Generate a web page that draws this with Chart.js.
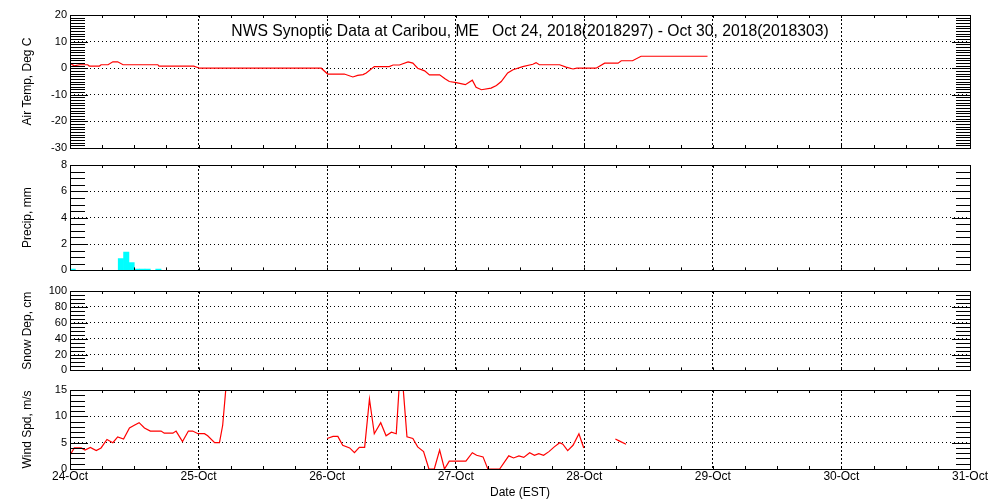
<!DOCTYPE html>
<html lang="en">
<head>
<meta charset="UTF-8">
<title>NWS Synoptic Data at Caribou, ME</title>
<script src="https://cdn.jsdelivr.net/npm/chart.js"></script>
<style>
  body { margin: 0; background: #fff; }
  #wrap { position: relative; width: 1000px; height: 500px; }
  canvas { position: absolute; left: 0; }
</style>
</head>
<body>
<div id="wrap">
  <canvas id="tempChart" width="1000" height="160" style="top:0px"></canvas>
  <canvas id="precipChart" width="1000" height="125" style="top:155px"></canvas>
  <canvas id="snowChart" width="1000" height="100" style="top:280px"></canvas>
  <canvas id="windChart" width="1000" height="122" style="top:378px"></canvas>
</div>

<script>
// hours since 24-Oct 00:00 EST
const dayLabels = ['24-Oct', '25-Oct', '26-Oct', '27-Oct', '28-Oct', '29-Oct', '30-Oct', '31-Oct'];
const titleText = 'NWS Synoptic Data at Caribou, ME   Oct 24, 2018(2018297) - Oct 30, 2018(2018303)';

const tempHours = [0.2, 0.8, 1.8, 3.3, 3.6, 5.5, 5.8, 7.1, 8.0, 8.9, 9.9, 16.4, 16.6, 23.1, 24.2, 46.9,
  48.1, 51.2, 52.8, 53.7, 54.7, 55.3, 56.8, 59.6, 60.3, 61.5, 63.1, 64.0, 64.9, 66.2, 67.1, 69.0,
  70.0, 70.8, 72.1, 73.8, 75.1, 75.8, 76.8, 78.6, 79.6, 80.5, 81.7, 82.7, 84.5, 86.4, 87.0, 87.6,
  91.4, 92.6, 93.9, 94.6, 98.2, 99.8, 102.3, 102.9, 105.0, 106.6, 119.0];
const tempValues = [1.6, 0.9, 1.3, 1.3, 0.8, 0.8, 1.3, 1.3, 2.4, 2.4, 1.3, 1.3, 0.8, 0.8, 0.0, 0.0,
  -2.2, -2.2, -3.3, -2.7, -2.4, -1.8, 0.6, 0.6, 1.2, 1.2, 2.4, 1.9, 0.0, -1.0, -2.5, -2.5,
  -4.0, -5.0, -5.4, -6.2, -4.5, -7.2, -8.1, -7.5, -6.5, -5.0, -1.8, -0.6, 0.6, 1.5, 2.1, 1.3,
  1.3, 0.4, -0.3, 0.0, 0.0, 1.9, 1.9, 2.8, 2.8, 4.5, 4.5];

const precipHours = [0.5, 9.5, 10.5, 11.5, 12.5, 13.5, 14.5, 16.5];
const precipValues = [0.1, 0.9, 1.4, 0.6, 0.1, 0.1, 0.1, 0.1];

const snowHours = [];
const snowValues = [];

const windHours = [0.1, 0.8, 2.1, 2.8, 3.8, 4.9, 5.8, 6.9, 8.0, 8.9, 10.0, 11.1, 12.0, 12.9, 13.9, 15.0,
  17.0, 17.6, 19.2, 19.8, 21.0, 22.1, 22.9, 23.9, 25.1, 25.7, 27.0, 27.9, 28.5, 29.2, 29.5,
  48.0, 49.1, 50.0, 50.9, 52.2, 53.1, 54.0, 55.0, 55.9, 56.8, 58.0, 59.0, 60.0, 60.9, 61.5, 62.1,
  62.9, 64.0, 64.9, 66.0, 67.0, 68.0, 69.0, 69.9, 70.8, 73.9, 75.1, 75.9, 77.1, 78.0, 80.2,
  81.9, 82.8, 83.8, 84.7, 85.8, 86.7, 87.5, 88.4, 89.4, 90.4, 91.4, 92.0, 92.9, 93.9, 95.0, 95.9,
  96.5, 101.8, 102.6, 103.8];
const windValues = [2.8, 4.0, 4.0, 3.6, 4.1, 3.5, 4.0, 5.6, 5.0, 6.1, 5.7, 7.8, 8.3, 8.8, 7.8, 7.2,
  7.2, 6.8, 6.8, 7.2, 5.2, 7.2, 7.2, 6.7, 6.7, 6.3, 5.0, 5.0, 8.3, 16.5, null,
  5.8, 6.2, 6.2, 4.5, 4.0, 3.1, 4.1, 4.1, 13.3, 6.7, 8.8, 6.3, 7.0, 6.7, 16.5, 16.5,
  6.1, 5.8, 4.2, 3.3, 0.0, 0.0, 3.6, 0.0, 1.5, 1.5, 3.1, 2.6, 2.3, 0.0, 0.0,
  2.5, 2.1, 2.5, 2.2, 3.1, 2.6, 2.9, 2.6, 3.3, 4.2, 5.0, 4.7, 3.5, 4.5, 6.7, 4.0,
  null, 5.7, 5.3, 4.7];

Chart.defaults.font.family = "'Liberation Sans', Arial, sans-serif";
Chart.defaults.color = '#000';
Chart.defaults.animation = false;

const pairs = (xs, ys) => xs.map((h, i) => ({ x: h, y: ys[i] }));

// box, inside tick marks and optional title text
const frame = {
  id: 'frame',
  afterDraw(chart, args, opts) {
    const { ctx, chartArea: a, scales } = chart;
    const x = scales.x, y = scales.y;
    const px = v => Math.round(v) + 0.5;
    ctx.save();
    ctx.strokeStyle = '#000';
    ctx.lineWidth = 1;
    ctx.setLineDash([]);
    ctx.beginPath();
    for (let v = y.min; v <= y.max + 1e-9; v += opts.minor) {
      const yy = px(y.getPixelForValue(v));
      const r = v / opts.major;
      const major = Math.abs(r - Math.round(r)) < 1e-6;
      ctx.moveTo(a.left, yy); ctx.lineTo(a.left + (major ? 18 : 15), yy);
      ctx.moveTo(a.right, yy); ctx.lineTo(a.right - (major ? 18 : 14), yy);
    }
    for (let h = x.min; h <= x.max; h += 6) {
      const xx = px(x.getPixelForValue(h));
      ctx.moveTo(xx, a.top); ctx.lineTo(xx, a.top + 3);
      ctx.moveTo(xx, a.bottom); ctx.lineTo(xx, a.bottom - 3);
    }
    ctx.stroke();
    ctx.strokeRect(px(a.left), px(a.top), Math.round(a.right - a.left), Math.round(a.bottom - a.top));
    if (opts.title) {
      ctx.fillStyle = '#000';
      ctx.font = "15.7px 'Liberation Sans', Arial, sans-serif";
      ctx.textAlign = 'center';
      ctx.textBaseline = 'alphabetic';
      ctx.fillText(opts.title, (a.left + a.right) / 2 + 10, a.top + 21);
    }
    ctx.restore();
  }
};

function makePanel(id, p) {
  return new Chart(document.getElementById(id), {
    type: p.type,
    data: { datasets: p.datasets },
    options: {
      responsive: false,
      layout: { padding: { top: p.padTop, right: 30, bottom: 0, left: 0 } },
      scales: {
        x: {
          type: 'linear',
          min: 0,
          max: 168,
          offset: false,
          afterFit: s => { s.height = p.xHeight; },
          grid: { color: '#000', lineWidth: 1, drawTicks: false, offset: false },
          border: { display: false, dash: [2, 2] },
          ticks: {
            display: p.showX,
            stepSize: 24,
            autoSkip: false,
            maxRotation: 0,
            padding: 0,
            font: { size: 12 },
            callback: v => dayLabels[v / 24]
          },
          title: {
            display: p.showX,
            text: 'Date (EST)',
            font: { size: 12 },
            padding: { top: 0, bottom: 0 }
          }
        },
        y: {
          min: p.yMin,
          max: p.yMax,
          afterFit: s => { s.width = 70; },
          grid: { color: '#000', lineWidth: 1, drawTicks: false },
          border: { display: false, dash: [1, 3] },
          ticks: { stepSize: p.yStep, padding: 3, font: { size: 11 } },
          title: { display: true, text: p.yTitle, font: { size: 12 }, padding: { top: 20, bottom: 0 } }
        }
      },
      plugins: {
        legend: { display: false },
        tooltip: { enabled: false },
        frame: { minor: p.minor, major: p.yStep, title: p.title }
      }
    },
    plugins: [frame]
  });
}

makePanel('tempChart', {
  type: 'line', padTop: 15, xHeight: 12, showX: false,
  yMin: -30, yMax: 20, yStep: 10, minor: 1, yTitle: 'Air Temp, Deg C', title: titleText,
  datasets: [{
    data: pairs(tempHours, tempValues),
    borderColor: '#ff0000', borderWidth: 1.2, pointRadius: 0, tension: 0
  }]
});

makePanel('precipChart', {
  type: 'bar', padTop: 10, xHeight: 7, showX: false,
  yMin: 0, yMax: 8, yStep: 2, minor: 0.5, yTitle: 'Precip, mm',
  datasets: [{
    data: pairs(precipHours, precipValues),
    backgroundColor: '#00ffff', borderWidth: 0,
    barPercentage: 1, categoryPercentage: 1
  }]
});

makePanel('snowChart', {
  type: 'line', padTop: 11, xHeight: 6, showX: false,
  yMin: 0, yMax: 100, yStep: 20, minor: 5, yTitle: 'Snow Dep, cm',
  datasets: [{
    data: pairs(snowHours, snowValues),
    borderColor: '#ff0000', borderWidth: 1.2, pointRadius: 0
  }]
});

makePanel('windChart', {
  type: 'line', padTop: 12, xHeight: 31, showX: true,
  yMin: 0, yMax: 15, yStep: 5, minor: 1, yTitle: 'Wind Spd, m/s',
  datasets: [{
    data: pairs(windHours, windValues),
    borderColor: '#ff0000', borderWidth: 1.2, pointRadius: 0, tension: 0, spanGaps: false
  }]
});
</script>
</body>
</html>
